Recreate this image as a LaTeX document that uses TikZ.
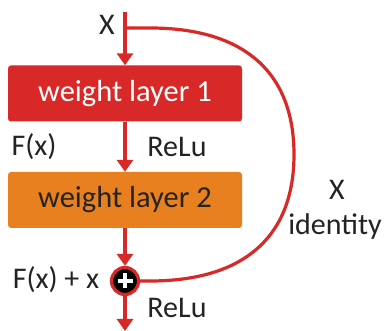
\documentclass[tikz,border=0pt]{standalone}
\usepackage{fontspec}
\setmainfont{Carlito}
\usetikzlibrary{arrows.meta}
\definecolor{lred}{RGB}{217,40,40}
\definecolor{lorange}{RGB}{232,128,32}
\definecolor{ltext}{RGB}{35,35,35}
\begin{document}
\begin{tikzpicture}[x=1pt,y=-1pt,
  conn/.style={draw=lred,line width=3.2pt},
  arr/.style={conn,-{Triangle[width=16pt,length=12pt]}},
  layerbox/.style={rectangle,rounded corners=3pt,minimum width=234pt,minimum height=56pt,inner sep=0pt,font=\fontsize{30.5}{32}\selectfont},
  lbl/.style={text=ltext,inner sep=0pt,font=\fontsize{30}{32}\selectfont}]
\useasboundingbox (0,0) rectangle (389,331);
\coordinate (top) at (125,12);
\coordinate (split) at (125,28);
\node[layerbox,fill=lred,text=white] (w1) at (125,93.5) {weight layer 1};
\node[layerbox,fill=lorange,text=ltext] (w2) at (125,200) {weight layer 2};
\node[circle,fill=black,draw=lred,line width=3.2pt,minimum size=27pt,inner sep=0pt] (sum) at (125,281) {};
\draw[white,line width=3.8pt] ([xshift=-7.5pt]sum.center) -- ([xshift=7.5pt]sum.center);
\draw[white,line width=3.8pt] ([yshift=-7.5pt]sum.center) -- ([yshift=7.5pt]sum.center);
\coordinate (out) at (125,331);
\coordinate (rmid) at (294,154.5);
\draw[arr] (top) -- (w1.north);
\draw[arr] (w1.south) -- (w2.north);
\draw[arr] (w2.south) -- (sum.north);
\draw[arr] (sum.south) -- (out);
\draw[conn] (split) -- (150,28) .. controls (243.6,28) and (294,72) .. (rmid)
  .. controls (294,237) and (243.6,281) .. (150,281) -- (sum.east);
\node[lbl] (lx) at (107,25) {X};
\node[lbl] (lf) at (34,147) {F(x)};
\node[lbl] (lr1) at (177,147) {ReLu};
\node[lbl] (lfx) at (56,280) {F(x) + x};
\node[lbl] (lr2) at (177,308) {ReLu};
\node[lbl] (lx2) at (337,190) {X};
\node[lbl] (lid) at (335,227) {identity};
\end{tikzpicture}
\end{document}
